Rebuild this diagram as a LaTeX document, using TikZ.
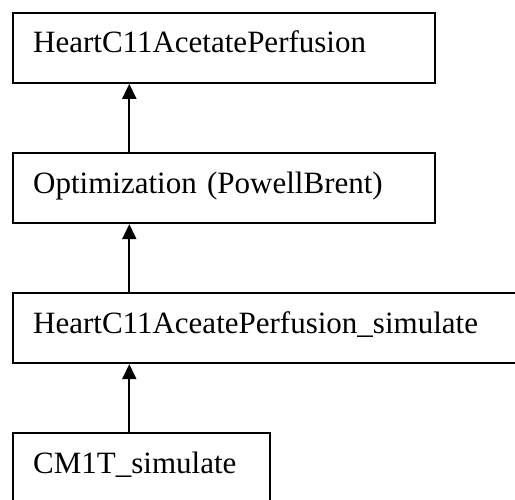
\documentclass[tikz,border=0pt]{standalone}
\usepackage{fontspec}
\setmainfont{Liberation Serif}
\usetikzlibrary{arrows.meta}
\begin{document}
\begin{tikzpicture}[x=1pt,y=-1pt,
  box/.style={draw, line width=1.8pt, rectangle, anchor=north west, minimum height=70pt,
    inner xsep=20pt, inner ysep=0pt, align=left, text height=20pt, text depth=10pt,
    font=\fontsize{31}{36}\selectfont},
  link/.style={line width=1.8pt, -{Triangle[length=15pt,width=14pt]}}]
\useasboundingbox (0,0) rectangle (515,499);
\clip (0,0) rectangle (515,499);
\node[box, text width=381.7pt] (b1) at (12.3,12) {HeartC11AcetatePerfusion};
\node[box, text width=381.7pt] (b2) at (12.3,152.3) {Optimization (PowellBrent)};
\node[box, text width=477.7pt] (b3) at (12.3,292.3) {HeartC11AceatePerfusion\_simulate};
\node[box, text width=217pt] (b4) at (12.3,432.3) {CM1T\_simulate};
\coordinate (ax) at (129.3,0);
\draw[link] (b2.north -| ax) -- (b1.south -| ax);
\draw[link] (b3.north -| ax) -- (b2.south -| ax);
\draw[link] (b4.north -| ax) -- (b3.south -| ax);
\end{tikzpicture}
\end{document}
